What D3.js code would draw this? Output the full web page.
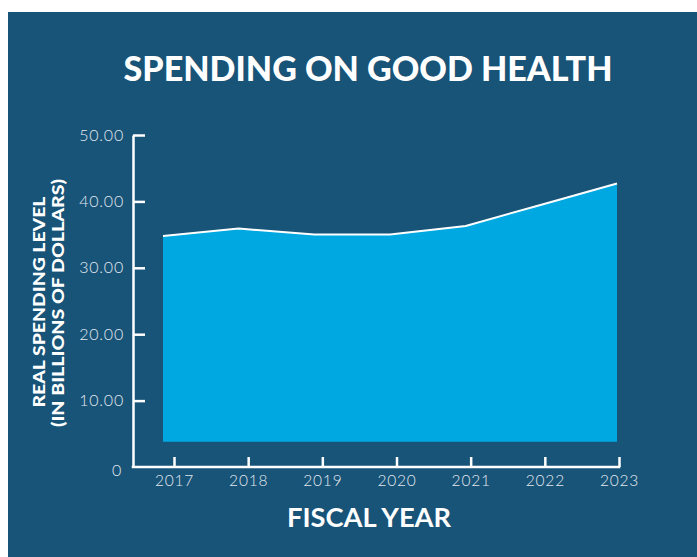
<!DOCTYPE html>
<html><head><meta charset="utf-8">
<script src="https://cdn.jsdelivr.net/npm/d3@7"></script>
<style>html,body{margin:0;padding:0;background:#fff;}svg{display:block;}</style>
</head><body>
<script>
const years = [2017, 2018, 2019, 2020, 2021, 2022, 2023];
const spending = [34.8, 35.9, 35.0, 35.0, 36.3, 39.5, 42.7];
const baselineValue = 3.8;
const yTicks = [0, 10, 20, 30, 40, 50];
const title = "SPENDING ON GOOD HEALTH";
const xTitle = "FISCAL YEAR";
const yTitle = ["REAL SPENDING LEVEL", "(IN BILLIONS OF DOLLARS)"];

const W = 697, H = 557;
const svg = d3.select("body").append("svg").attr("width", W).attr("height", H);
svg.append("rect").attr("x", 8).attr("y", 12).attr("width", W - 8).attr("height", H - 12).attr("fill", "#185378");

const y = d3.scaleLinear().domain([0, 50]).range([467, 135]);
const xTick = d3.scalePoint().domain(years).range([174, 619]);
const xArea = d3.scaleLinear().domain([2017, 2023]).range([163, 617]);
const axisX = 133;

const data = years.map((yr, i) => ({year: yr, v: spending[i]}));

svg.append("path").datum(data)
  .attr("fill", "#00a8e2")
  .attr("d", d3.area().x(d => xArea(d.year)).y0(y(baselineValue)).y1(d => y(d.v)));
svg.append("path").datum(data)
  .attr("fill", "none").attr("stroke", "#ffffff").attr("stroke-width", 2)
  .attr("d", d3.line().x(d => xArea(d.year)).y(d => y(d.v)));

// Y axis
const gy = svg.append("g").attr("transform", `translate(${axisX},0)`)
  .call(d3.axisLeft(y).tickValues(yTicks).tickSizeInner(-12).tickSizeOuter(0).tickPadding(9)
    .tickFormat(d => d === 0 ? "0" : d.toFixed(2)));
gy.select(".domain").attr("stroke", "#fff").attr("stroke-width", 2.5);
gy.selectAll(".tick line").attr("stroke", "#fff").attr("stroke-width", 2.5);
gy.selectAll(".tick text").attr("fill", "#e3e9ef").style("font-family", "Lato, 'Open Sans', sans-serif")
  .style("font-size", "16px").style("font-weight", 300).style("letter-spacing", "0.8px")
  .attr("dy", d => d === 0 ? "0.55em" : "0.32em")
  .attr("x", d => d === 0 ? -11 : -9);
gy.selectAll(".tick").filter(d => d === 0).select("line").remove();

// X axis
const gx = svg.append("g").attr("transform", `translate(0,${y(0)})`)
  .call(d3.axisBottom(xTick).tickSizeInner(-10).tickSizeOuter(0).tickPadding(8));
gx.select(".domain").remove();
gx.append("line").attr("x1", axisX - 1.25).attr("x2", xTick(2023) + 1.25).attr("y1", 0).attr("y2", 0)
  .attr("stroke", "#fff").attr("stroke-width", 2.5);
gx.selectAll(".tick line").attr("stroke", "#fff").attr("stroke-width", 2.5);
gx.selectAll(".tick text").attr("fill", "#e3e9ef").style("font-family", "Lato, 'Open Sans', sans-serif")
  .style("font-size", "15.5px").style("font-weight", 300).style("letter-spacing", "0.8px");

// Title
svg.append("text").attr("x", 368).attr("y", 81).attr("text-anchor", "middle")
  .attr("fill", "#fff").style("font-family", "Lato, 'DejaVu Sans', sans-serif")
  .style("font-weight", 900).style("font-size", "35px")
  .attr("textLength", 489).attr("lengthAdjust", "spacingAndGlyphs")
  .text(title);

// X title
svg.append("text").attr("x", 369).attr("y", 527).attr("text-anchor", "middle")
  .attr("fill", "#fff").style("font-family", "Lato, 'DejaVu Sans', sans-serif")
  .style("font-weight", 700).style("font-size", "26px")
  .attr("textLength", 164).attr("lengthAdjust", "spacingAndGlyphs")
  .text(xTitle);

// Y title
const yt = svg.append("text").attr("transform", "rotate(-90)")
  .attr("text-anchor", "middle").attr("fill", "#fff")
  .style("font-family", "Lato, 'DejaVu Sans', sans-serif").style("font-weight", 900).style("font-size", "17px");
yt.append("tspan").attr("x", -302).attr("y", 45).attr("textLength", 211).attr("lengthAdjust", "spacingAndGlyphs").text(yTitle[0]);
yt.append("tspan").attr("x", -303).attr("y", 64).attr("textLength", 248).attr("lengthAdjust", "spacingAndGlyphs").text(yTitle[1]);
</script>
</body></html>
